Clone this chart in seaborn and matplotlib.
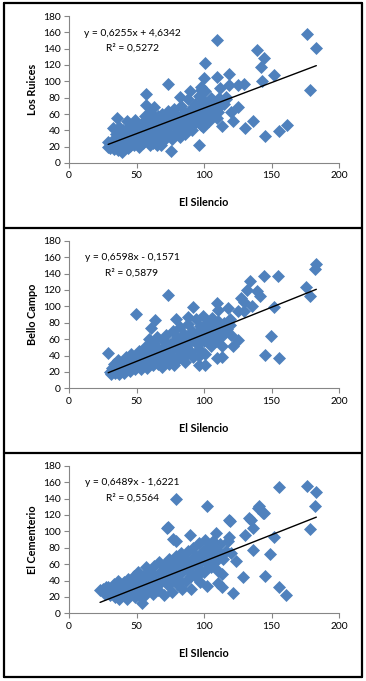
import numpy as np
import pandas as pd
import matplotlib
matplotlib.use("Agg")
import matplotlib.pyplot as plt
import seaborn as sns
from matplotlib.lines import Line2D

# ---------------- data ----------------
x_label = "El Silencio"
x_label_3 = "El SIlencio"
y_labels = ["Los Ruices", "Bello Campo", "El Cementerio"]
slopes = [0.6255, 0.6598, 0.6489]
intercepts = [4.6342, -0.1571, -1.6221]
equations = ["y = 0,6255x + 4,6342", "y = 0,6598x - 0,1571", "y = 0,6489x - 1,6221"]
r2_texts = ["R² = 0,5272", "R² = 0,5879", "R² = 0,5564"]
x_ticks = [0, 50, 100, 150, 200]
y_ticks = [0, 20, 40, 60, 80, 100, 120, 140, 160, 180]

ruices_x = [176.3, 183.2, 109.5, 139.6, 100.6, 144.5, 142.5, 151.7, 118.6, 109.7, 99.9, 73.5,
            143.3, 125.5, 129.5, 178.3, 118.6, 57.0, 97.7, 89.9, 82.0, 125.3, 120.3, 109.7,
            113.7, 121.6, 130.0, 136.4, 145.3, 155.6, 161.5, 96.4, 75.5, 35.8, 32.8, 29.0,
            29.0, 99.4, 111.6, 98.0, 116.6,
            30, 31, 33, 34, 36, 35, 37, 38, 39, 40, 41, 42, 43, 44, 45, 46, 47, 48, 49, 50,
            51, 52, 53, 54, 55, 56, 57, 57, 58, 59, 60, 60, 61, 62, 63, 63, 64, 65, 66, 67,
            68, 69, 70, 71, 72, 73, 74, 75, 76, 77, 78, 79, 80, 81, 82, 83, 84, 85, 86, 87,
            88, 89, 90, 91, 92, 93, 94, 95, 96, 97, 98, 99, 100, 100, 101, 102, 103, 104, 105,
            106, 107, 108, 110, 111, 112, 113, 115, 116, 33, 38, 45, 52, 62, 68,
            35, 40, 44, 48, 50, 55, 58, 62, 66, 70, 74, 78, 82, 86, 90, 94, 98, 102, 106,
            60, 65, 72, 85, 92, 55, 47, 42]
ruices_y = [158.5, 141.0, 151.0, 138.0, 122.7, 128.0, 118.0, 108.0, 109.0, 105.0, 104.0, 96.7,
            100.0, 96.0, 97.0, 90.0, 95.0, 84.0, 89.0, 88.6, 81.0, 69.0, 62.0, 55.0,
            45.5, 51.0, 42.7, 52.0, 33.3, 39.0, 47.0, 22.3, 14.2, 55.0, 42.7, 20.0,
            26.0, 44.0, 91.4, 93.5, 81.0,
            18, 25, 30, 20, 16, 36, 44, 27, 14, 22, 33, 40, 52, 18, 28, 46, 36, 22, 53, 30,
            42, 20, 48, 35, 25, 58, 40, 71, 30, 50, 22, 62, 36, 44, 28, 68, 55, 22, 40, 48,
            33, 60, 28, 52, 42, 64, 35, 56, 30, 46, 66, 38, 58, 50, 32, 70, 44, 62, 36, 54,
            78, 46, 66, 40, 58, 72, 50, 62, 82, 56, 46, 68, 76, 58, 88, 64, 72, 52, 80,
            60, 68, 74, 62, 80, 70, 76, 72, 78, 17, 17, 21, 26, 24, 22,
            28, 40, 35, 45, 48, 45, 38, 52, 58, 45, 48, 52, 56, 46, 52, 58, 60, 70, 74,
            30, 33, 36, 40, 48, 35, 28, 25]

bello_x = [183.2, 182.0, 175.8, 178.3, 144.5, 154.8, 134.4, 131.9, 139.6, 141.3, 127.5, 129.5,
           135.4, 151.7, 149.4, 145.3, 155.6, 73.5, 49.3, 63.4, 60.4, 92.0, 109.5, 118.0,
           125.5, 129.6, 110.5, 119.0, 120.3, 125.3, 121.6, 113.4, 113.7, 109.7, 100.6, 96.4,
           29.0, 79.6, 88.3,
           30, 31, 32, 33, 34, 35, 36, 37, 38, 39, 40, 41, 42, 43, 44, 45, 46, 47, 48, 49,
           50, 51, 52, 53, 54, 55, 56, 57, 58, 59, 60, 61, 62, 63, 64, 65, 66, 67, 68, 69,
           70, 71, 72, 73, 74, 75, 76, 77, 78, 79, 80, 81, 82, 83, 84, 85, 86, 87, 88, 89,
           90, 91, 92, 93, 94, 95, 96, 97, 98, 99, 100, 101, 102, 103, 104, 105, 106, 107,
           108, 109, 110, 111, 112, 113, 115, 117, 119,
           35, 40, 45, 50, 55, 60, 65, 70, 75, 80, 85, 90, 95, 100, 105, 60, 70, 80, 90, 100,
           48, 53, 43, 66, 76, 86, 96, 110, 115]
bello_y = [151.0, 146.0, 124.0, 113.0, 137.0, 137.0, 131.0, 120.0, 119.0, 112.0, 110.0, 105.0,
           100.0, 99.6, 64.0, 40.6, 36.6, 113.8, 90.6, 83.0, 74.0, 99.6, 104.0, 97.5,
           94.0, 94.0, 95.5, 77.0, 65.0, 59.0, 51.0, 51.0, 38.6, 36.6, 28.4, 29.0,
           43.5, 85.0, 87.0,
           20, 17, 25, 30, 19, 22, 35, 17, 27, 22, 32, 19, 38, 25, 30, 21, 42, 34, 26, 23,
           38, 30, 45, 24, 35, 28, 50, 40, 25, 60, 33, 46, 28, 55, 38, 62, 30, 48, 42, 26,
           58, 36, 65, 46, 30, 54, 40, 70, 28, 60, 48, 36, 75, 56, 42, 66, 32, 50, 78, 60,
           44, 70, 38, 56, 84, 64, 48, 76, 58, 88, 68, 42, 80, 60, 72, 52, 86, 66,
           78, 58, 82, 70, 76, 64, 80, 72, 84,
           27, 25, 33, 30, 40, 42, 48, 45, 47, 55, 50, 58, 68, 75, 70, 52, 50, 62, 66, 58,
           36, 32, 30, 36, 34, 40, 40, 74, 70]

cement_x = [176.3, 155.6, 183.2, 182.0, 178.3, 79.4, 102.3, 140.3, 143.7, 140.7, 144.4, 134.6,
            136.3, 118.5, 133.0, 73.0, 72.3, 76.9, 79.4, 89.3, 109.2, 119.0, 118.6, 130.0,
            151.7, 136.4, 124.0, 149.2, 145.3, 129.2, 155.6, 161.0, 121.6, 102.3, 110.5, 113.0,
            113.7, 23.0, 27.4, 53.8,
            25, 27, 29, 30, 31, 33, 34, 35, 36, 37, 38, 39, 40, 41, 42, 43, 44, 45, 46, 47,
            48, 49, 50, 51, 52, 53, 54, 55, 56, 57, 58, 59, 60, 61, 62, 63, 64, 65, 66, 67,
            68, 69, 70, 71, 72, 73, 74, 75, 76, 77, 78, 79, 80, 81, 82, 83, 84, 85, 86, 87,
            88, 89, 90, 91, 92, 93, 94, 95, 96, 97, 98, 99, 100, 101, 102, 103, 104, 105,
            106, 107, 108, 109, 110, 111, 112, 114, 116, 118, 120,
            32, 38, 42, 46, 50, 55, 60, 64, 68, 72, 76, 80, 84, 88, 92, 96, 100, 104, 108,
            58, 66, 74, 82, 90, 98, 45, 52, 62]
cement_y = [155.6, 154.4, 147.5, 131.0, 102.8, 139.0, 131.0, 129.0, 122.0, 130.5, 122.4, 114.2,
            104.0, 114.0, 116.0, 105.0, 103.6, 91.0, 88.0, 96.0, 97.5, 113.0, 93.5, 95.5,
            92.6, 77.0, 63.8, 72.0, 46.0, 44.0, 32.5, 22.0, 25.0, 33.0, 37.0, 32.5,
            47.5, 28.4, 31.7, 13.0,
            30, 24, 32, 22, 28, 36, 20, 30, 40, 18, 26, 34, 22, 38, 28, 18, 42, 32, 24, 36,
            46, 20, 30, 50, 40, 26, 34, 46, 22, 56, 38, 30, 50, 42, 24, 58, 34, 46, 28, 62,
            40, 52, 22, 60, 44, 34, 66, 50, 26, 58, 42, 70, 36, 62, 48, 74, 30, 56, 66, 40,
            76, 52, 30, 62, 80, 46, 70, 56, 86, 38, 64, 76, 50, 90, 60, 72, 82, 56,
            68, 88, 62, 78, 52, 70, 84, 66, 76, 88, 74,
            30, 30, 34, 30, 36, 38, 40, 44, 50, 52, 48, 55, 60, 58, 68, 70, 72, 75, 72,
            28, 34, 40, 40, 46, 50, 26, 22, 30]

xs_all = [ruices_x, bello_x, cement_x]
ys_all = [ruices_y, bello_y, cement_y]
xlabels = [x_label, x_label, x_label_3]

# ---------------- styling ----------------
sns.set_theme(style="white")
plt.rcParams["font.family"] = ["Lato", "DejaVu Sans"]

W, H = 366, 681
fig = plt.figure(figsize=(W / 100, H / 100), dpi=100)

blue = "#4F81BD"
axis_gray = "#868686"

# axes boxes in pixels: (left, top, right, bottom)
boxes = [(69, 16, 339, 163), (69, 240.7, 339, 388.3), (69, 465.7, 339, 613.3)]

for i, (l, t, r, b) in enumerate(boxes):
    ax = fig.add_axes([l / W, 1 - b / H, (r - l) / W, (b - t) / H])
    df = pd.DataFrame({"x": xs_all[i], "y": ys_all[i]})
    sns.scatterplot(data=df, x="x", y="y", ax=ax, marker="D", s=44, color=blue,
                    linewidth=0, alpha=1.0, zorder=2)
    xmin, xmax = min(xs_all[i]), max(xs_all[i])
    lx = np.array([xmin, xmax])
    ax.plot(lx, slopes[i] * lx + intercepts[i], color="black", lw=1.0, zorder=3)

    ax.set_xlim(0, 200)
    ax.set_ylim(0, 180)
    ax.set_xticks(x_ticks)
    ax.set_yticks(y_ticks)
    ax.tick_params(axis="both", which="major", labelsize=7.4, colors="black",
                   length=3.5, width=0.8, direction="out", pad=2.5,
                   bottom=True, left=True)
    ax.tick_params(axis="both", color=axis_gray)
    for side in ["top", "right"]:
        ax.spines[side].set_visible(False)
    for side in ["left", "bottom"]:
        ax.spines[side].set_color(axis_gray)
        ax.spines[side].set_linewidth(0.8)
    ax.set_xlabel(xlabels[i], fontsize=7.8, fontweight="bold", color="black")
    ax.set_ylabel(y_labels[i], fontsize=7.8, fontweight="bold", color="black")
    ax.xaxis.set_label_coords(0.5, -40.0 / (b - t))
    ax.xaxis.label.set_va("center")
    ax.yaxis.set_label_coords((33 - l) / (r - l), 0.5)
    ax.yaxis.label.set_va("center")
    ax.text(46.7, 159, equations[i], ha="center", va="center", fontsize=7.4, color="black")
    ax.text(46.7, 141, r2_texts[i], ha="center", va="center", fontsize=7.4, color="black")
    ax.grid(False)

# panel frames
frame_kw = dict(color="black", lw=1.6, transform=fig.transFigure, clip_on=False)
for yy in [2.5, 227.5, 452.5, 677.0]:
    fig.add_artist(Line2D([3.5 / W, 362 / W], [1 - yy / H, 1 - yy / H], **frame_kw))
for xx in [3.5, 362]:
    fig.add_artist(Line2D([xx / W, xx / W], [1 - 2.5 / H, 1 - 677 / H], **frame_kw))

fig.savefig("out.png", dpi=100, facecolor="white")
